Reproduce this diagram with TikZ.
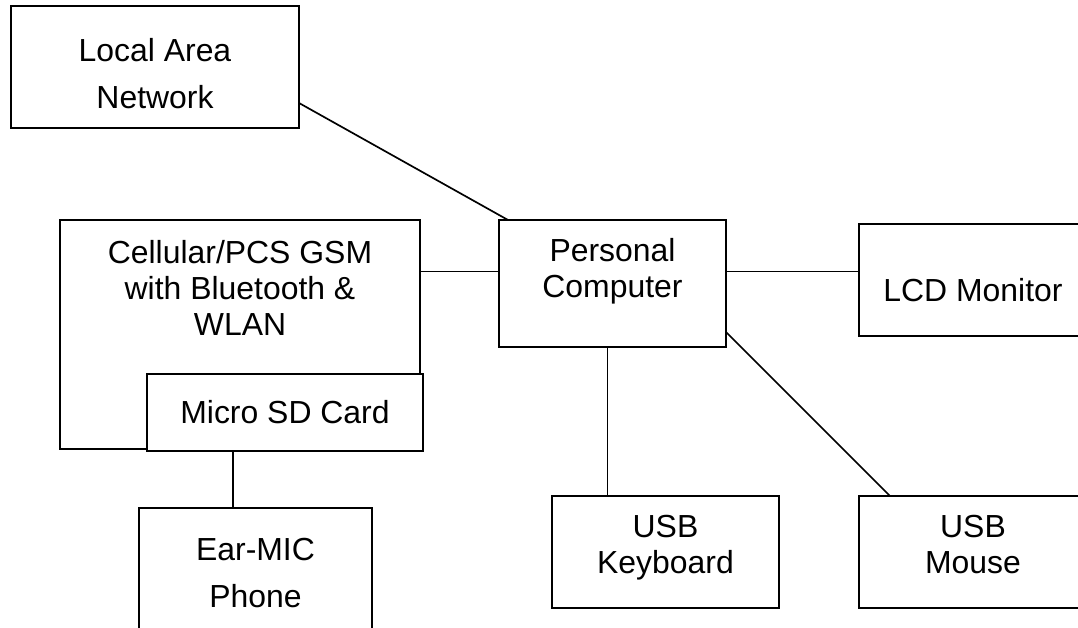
\documentclass[tikz,border=0pt]{standalone}
\usepackage{fontspec}
\setmainfont{Liberation Sans}
\usepackage{tikz}
\usetikzlibrary{calc}
\newlength\pxu
\setlength\pxu{0.025cm}

\begin{document}
\begin{tikzpicture}[
        x=0.025cm, y=-0.025cm,
        box/.style={rectangle, draw, line width=1.4pt, fill=white, inner sep=0pt, outer sep=0pt},
        txt/.style={align=center, inner sep=0pt, font=\fontsize{22.7}{25.8}\selectfont},
        widetxt/.style={txt, font=\fontsize{22.7}{33.7}\selectfont},
        link/.style={line width=1.2pt}
        ]
        \clip (0,0) rectangle (1078,628);

        % Cajas
        \node[box, minimum width=288\pxu, minimum height=122\pxu] (lan) at (155,67) {};
        \node[box, minimum width=360\pxu, minimum height=229\pxu] (cell) at (240,334.5) {};
        \node[box, txt, minimum width=276\pxu, minimum height=77\pxu] (sd) at (285,412.5) {Micro SD Card};
        \node[box, minimum width=227\pxu, minimum height=127\pxu] (pc) at (612.5,283.5) {};
        \node[box, minimum width=227\pxu, minimum height=112\pxu] (lcd) at (972.5,280) {};
        \node[box, minimum width=227\pxu, minimum height=112\pxu] (kbd) at (665.5,552) {};
        \node[box, minimum width=227\pxu, minimum height=112\pxu] (mouse) at (972.5,552) {};
        \node[box, minimum width=233\pxu, minimum height=130\pxu] (ear) at (255.5,573) {};

        % Textos
        \node[widetxt] (lantxt) at (155,73.5) {Local Area\\Network};
        \node[txt] (celltxt) at (240,288) {Cellular/PCS GSM\\with Bluetooth \&\\WLAN};
        \node[txt] (pctxt) at (612.5,271.5) {Personal\\Computer};
        \node[txt] (lcdtxt) at (973,290.5) {LCD Monitor};
        \node[txt] (kbdtxt) at (665.5,547.5) {USB\\Keyboard};
        \node[txt] (mousetxt) at (973,544.5) {USB\\Mouse};
        \node[widetxt] (eartxt) at (255.5,573) {Ear-MIC\\Phone};

        % Enlaces
        \coordinate (pcl) at ($(pc.west)+(0,-12)$);
        \coordinate (pcr) at ($(pc.east)+(0,-12)$);
        \coordinate (pcb) at ($(pc.south)+(-5,0)$);
        \coordinate (sdb) at ($(sd.south)+(-52,0)$);
        \draw[link] ($(lan.north east)!0.795!(lan.south east)$) -- ($(pc.north west)+(9,0)$);
        \draw[link] (cell.east |- pcl) -- (pcl);
        \draw[link] (pcr) -- (lcd.west |- pcr);
        \draw[link] (pcb) -- (kbd.north -| pcb);
        \draw[link] ($(pc.south east)+(0,-15)$) -- ($(mouse.north west)+(31,0)$);
        \draw[link] (sdb) -- (ear.north -| sdb);
\end{tikzpicture}
\end{document}
